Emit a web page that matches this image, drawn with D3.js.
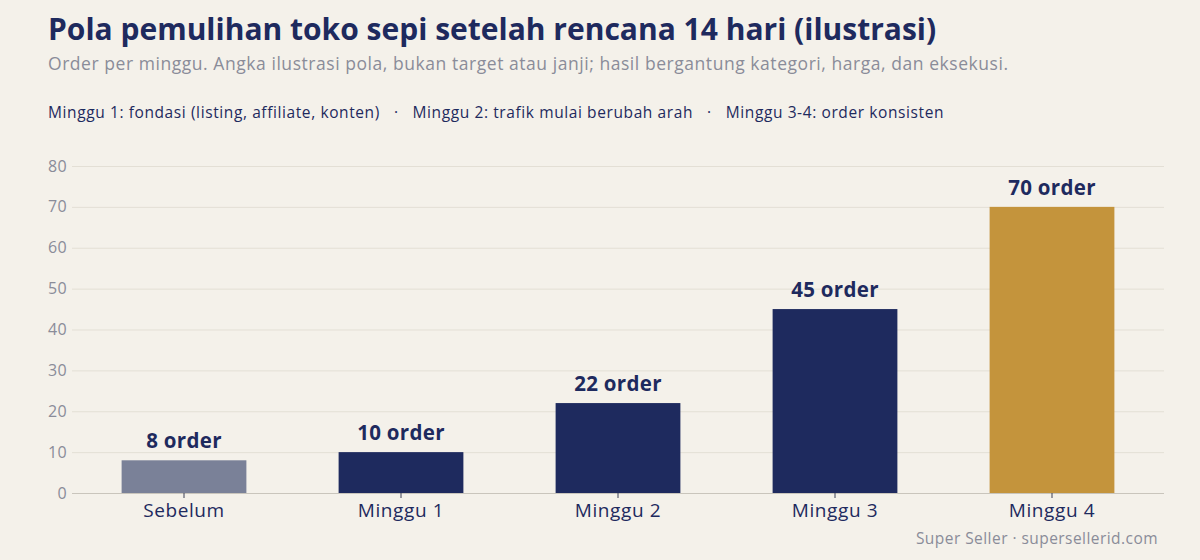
<!DOCTYPE html>
<html lang="id">
<head>
  <meta charset="UTF-8">
  <title>Pola pemulihan toko sepi</title>
  <script src="https://d3js.org/d3.v7.min.js"></script>
  <style>
    body { margin: 0; background: #f4f1ea; }
    svg { display: block; font-family: "Open Sans", sans-serif; }
    .grid line { stroke: #e3dfd5; }
    .grid .domain { display: none; }
  </style>
</head>
<body>
  <svg id="chart" width="1200" height="560"></svg>
  <script>
    const categories = ['Sebelum', 'Minggu 1', 'Minggu 2', 'Minggu 3', 'Minggu 4'];
    const orders = [8, 10, 22, 45, 70];
    const barColors = ['#7a8198', '#1e2a5e', '#1e2a5e', '#1e2a5e', '#c4943c'];
    const yTicks = [0, 10, 20, 30, 40, 50, 60, 70, 80];
    const notes = [
      'Minggu 1: fondasi (listing, affiliate, konten)',
      'Minggu 2: trafik mulai berubah arah',
      'Minggu 3-4: order konsisten'
    ];

    const navy = '#1e2a5e';
    const grey = '#8a8c99';
    const W = 1200, H = 560;
    const plotLeft = 72, plotRight = 1164, plotTop = 166, plotBottom = 493;

    const svg = d3.select('#chart');
    svg.append('rect').attr('width', W).attr('height', H).attr('fill', '#f4f1ea');

    // title block
    svg.append('text')
      .attr('x', 48).attr('y', 40)
      .attr('fill', navy)
      .attr('font-size', 30).attr('font-weight', 700)
      .text('Pola pemulihan toko sepi setelah rencana 14 hari (ilustrasi)');

    svg.append('text')
      .attr('x', 48).attr('y', 70)
      .attr('fill', grey)
      .attr('font-size', 17.5)
      .attr('letter-spacing', 0.55)
      .text('Order per minggu. Angka ilustrasi pola, bukan target atau janji; hasil bergantung kategori, harga, dan eksekusi.');

    // notes row, separated by small dots
    const noteText = svg.append('text')
      .attr('x', 48).attr('y', 118)
      .attr('fill', navy)
      .attr('font-size', 15.5)
      .attr('letter-spacing', 0.6);
    notes.forEach((n, i) => {
      if (i > 0) noteText.append('tspan').attr('dx', 14).text('\u00b7');
      noteText.append('tspan').attr('dx', i > 0 ? 14 : 0).text(n);
    });

    const x = d3.scaleBand()
      .domain(categories)
      .range([75.5, 1160.5])
      .paddingInner(0.425)
      .paddingOuter(0.2125);

    const y = d3.scaleLinear()
      .domain([0, 80])
      .range([plotBottom, plotTop]);

    // gridlines
    svg.append('g')
      .attr('class', 'grid')
      .attr('transform', `translate(${plotLeft},0)`)
      .call(d3.axisLeft(y).tickValues(yTicks).tickSize(-(plotRight - plotLeft)).tickFormat(''));

    // y labels
    svg.append('g')
      .selectAll('text')
      .data(yTicks)
      .join('text')
      .attr('x', 67)
      .attr('y', d => y(d))
      .attr('dy', '0.35em')
      .attr('text-anchor', 'end')
      .attr('fill', grey)
      .attr('font-size', 16)
      .attr('letter-spacing', 0.3)
      .text(d => d);

    // bars
    svg.append('g')
      .selectAll('rect')
      .data(orders)
      .join('rect')
      .attr('x', (d, i) => x(categories[i]))
      .attr('y', d => y(d))
      .attr('width', x.bandwidth())
      .attr('height', d => y(0) - y(d))
      .attr('fill', (d, i) => barColors[i]);

    // value labels
    svg.append('g')
      .selectAll('text')
      .data(orders)
      .join('text')
      .attr('x', (d, i) => x(categories[i]) + x.bandwidth() / 2)
      .attr('y', d => y(d) - 12)
      .attr('text-anchor', 'middle')
      .attr('fill', navy)
      .attr('font-size', 20.5)
      .attr('font-weight', 700)
      .attr('letter-spacing', 0.3)
      .text(d => `${d} order`);

    // x axis
    const xAxis = svg.append('g')
      .attr('transform', `translate(0,${plotBottom})`)
      .call(d3.axisBottom(x).tickSize(5).tickSizeOuter(0));
    xAxis.select('.domain').attr('d', `M${plotLeft},0.5H${plotRight}`).attr('stroke', '#c9c5bc');
    xAxis.selectAll('.tick line').attr('stroke', '#3a3f55');
    xAxis.selectAll('.tick text')
      .attr('y', 11)
      .attr('fill', navy)
      .attr('font-size', 19)
      .attr('letter-spacing', 0.6)
      .attr('font-family', '"Open Sans", sans-serif');

    // source
    svg.append('text')
      .attr('x', 1158).attr('y', 544)
      .attr('text-anchor', 'end')
      .attr('fill', grey)
      .attr('font-size', 15.5)
      .attr('letter-spacing', 0.45)
      .text('Super Seller \u00b7 supersellerid.com');
  </script>
</body>
</html>
